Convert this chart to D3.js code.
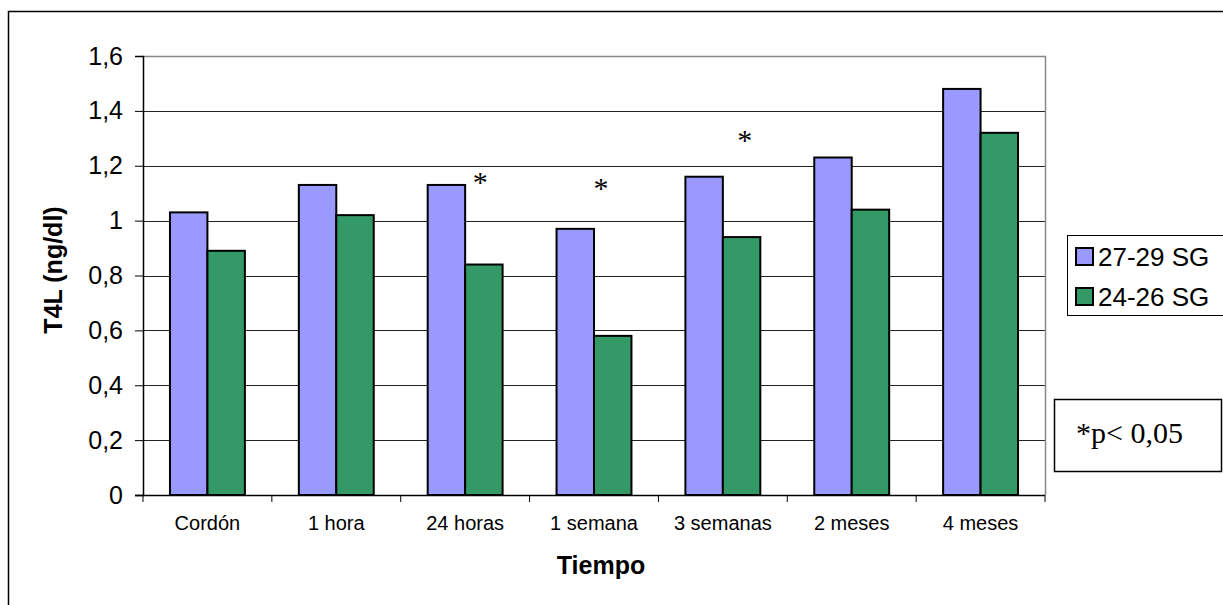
<!DOCTYPE html>
<html>
<head>
<meta charset="utf-8">
<script src="https://cdn.jsdelivr.net/npm/d3@7"></script>
<style>
  body { margin: 0; background: #fff; }
  svg { display: block; font-family: Arial, "Liberation Sans", sans-serif; }
</style>
</head>
<body>
<svg id="chart" width="1223" height="605"></svg>
<script>
// data
var categories = ["Cordón", "1 hora", "24 horas", "1 semana", "3 semanas", "2 meses", "4 meses"];
var seriesNames = ["27-29 SG", "24-26 SG"];
var series2729 = [1.03, 1.13, 1.13, 0.97, 1.16, 1.23, 1.48];
var series2426 = [0.89, 1.02, 0.84, 0.58, 0.94, 1.04, 1.32];
var yTicks = [0, 0.2, 0.4, 0.6, 0.8, 1, 1.2, 1.4, 1.6];
// significance marks: category + level where the star sits
var starCats = ["24 horas", "1 semana", "3 semanas"];
var starLevels = [1.155, 1.133, 1.308];
var starShift = [15, 7, 22];

var colors = ["#9999ff", "#339966"];

var svg = d3.select("#chart");
// plot area (don't call these top/left: window.top is read-only)
var pLeft = 143, pRight = 1045, pTop = 56, pBottom = 495;

// outer frame
svg.append("rect").attr("x", 8.5).attr("y", 11.5)
  .attr("width", 1240).attr("height", 620)
  .attr("fill", "none").attr("stroke", "#000").attr("stroke-width", 1.5);

var x0 = d3.scaleBand().domain(categories).range([pLeft, pRight]).padding(0);
var x1 = d3.scaleBand().domain(seriesNames).range([0, x0.bandwidth()])
  .paddingInner(0).paddingOuter(0.72);
var y = d3.scaleLinear().domain([0, 1.6]).range([pBottom, pTop]);

// gridlines
svg.append("g").selectAll("line").data(yTicks.slice(1, -1)).join("line")
  .attr("x1", pLeft).attr("x2", pRight)
  .attr("y1", d => Math.round(y(d)) + 0.5).attr("y2", d => Math.round(y(d)) + 0.5)
  .attr("stroke", "#222").attr("stroke-width", 1);

// plot border top/right in grey
svg.append("path")
  .attr("d", "M" + pLeft + "," + (pTop + 0.5) + "H" + (pRight + 0.5) + "V" + pBottom)
  .attr("fill", "none").attr("stroke", "#888").attr("stroke-width", 1.5);

// bars
var rows = categories.map(function(c, i) {
  return {cat: c, vals: [series2729[i], series2426[i]]};
});
var groups = svg.append("g").selectAll("g").data(rows).join("g")
  .attr("transform", d => "translate(" + x0(d.cat) + ",0)");
groups.selectAll("rect").data(d => d.vals.map((v, j) => ({s: seriesNames[j], v: v, j: j})))
  .join("rect")
  .attr("x", d => x1(d.s))
  .attr("y", d => y(d.v))
  .attr("width", x1.bandwidth())
  .attr("height", d => y(0) - y(d.v))
  .attr("fill", d => colors[d.j])
  .attr("stroke", "#000").attr("stroke-width", 2);

// y axis
var yAxis = d3.axisLeft(y).tickValues(yTicks).tickSize(8).tickPadding(12)
  .tickFormat(d => d3.format("~g")(d).replace(".", ","));
var gy = svg.append("g").attr("transform", "translate(" + pLeft + ",0)").call(yAxis);
gy.select(".domain").attr("stroke", "#000").attr("stroke-width", 1.5);
gy.selectAll(".tick line").attr("stroke", "#000");
gy.selectAll("text").attr("font-size", 25).attr("fill", "#000")
  .attr("font-family", "Arial, 'Liberation Sans', sans-serif");

// x axis: ticks at category boundaries
var bounds = categories.map(c => x0(c)).concat([pRight]);
var gx = svg.append("g");
gx.append("line").attr("x1", pLeft - 8).attr("x2", pRight)
  .attr("y1", pBottom + 0.5).attr("y2", pBottom + 0.5)
  .attr("stroke", "#000").attr("stroke-width", 1.5);
gx.selectAll("line.tk").data(bounds).join("line").attr("class", "tk")
  .attr("x1", d => d).attr("x2", d => d)
  .attr("y1", pBottom).attr("y2", pBottom + 7)
  .attr("stroke", "#000");
gx.selectAll("text").data(categories).join("text")
  .attr("x", d => x0(d) + x0.bandwidth() / 2)
  .attr("y", 530)
  .attr("text-anchor", "middle")
  .attr("font-size", 20)
  .text(d => d);

// axis titles
svg.append("text").attr("x", (pLeft + pRight) / 2 + 7).attr("y", 574)
  .attr("text-anchor", "middle").attr("font-weight", "bold").attr("font-size", 25)
  .text("Tiempo");
svg.append("text").attr("transform", "translate(62,270) rotate(-90)")
  .attr("text-anchor", "middle").attr("font-weight", "bold").attr("font-size", 25)
  .text("T4L (ng/dl)");

// stars
svg.append("g").selectAll("text").data(starCats).join("text")
  .attr("x", (d, i) => x0(d) + x0.bandwidth() / 2 + starShift[i])
  .attr("y", (d, i) => y(starLevels[i]) + 14)
  .attr("text-anchor", "middle")
  .attr("font-family", "'Liberation Serif', 'DejaVu Serif', serif")
  .attr("font-size", 30)
  .text("*");

// legend
var lg = svg.append("g");
lg.append("rect").attr("x", 1067.5).attr("y", 235.5).attr("width", 170).attr("height", 80)
  .attr("fill", "#fff").attr("stroke", "#000").attr("stroke-width", 1);
var items = lg.selectAll("g").data(seriesNames).join("g")
  .attr("transform", (d, i) => "translate(1076," + (248 + i * 40) + ")");
items.append("rect").attr("width", 17).attr("height", 17)
  .attr("fill", (d, i) => colors[i]).attr("stroke", "#000").attr("stroke-width", 2);
items.append("text").attr("x", 22).attr("y", 18).attr("font-size", 26).text(d => d);

// note box
var nb = svg.append("g");
nb.append("rect").attr("x", 1054.5).attr("y", 399.5).attr("width", 167).attr("height", 72)
  .attr("fill", "#fff").attr("stroke", "#000").attr("stroke-width", 1.5);
nb.append("text").attr("x", 1076).attr("y", 443)
  .attr("font-family", "'Liberation Serif', 'DejaVu Serif', serif")
  .attr("font-size", 30).text("*p< 0,05");
</script>
</body>
</html>
